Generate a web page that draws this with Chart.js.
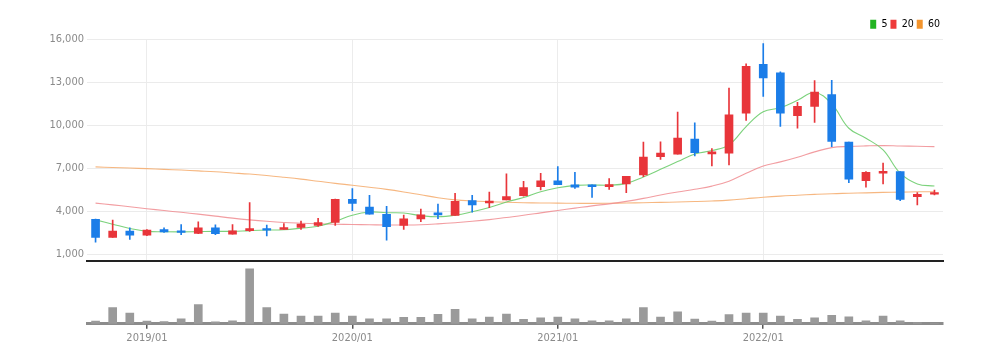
<!DOCTYPE html>
<html>
<head>
<meta charset="utf-8">
<script src="https://cdn.jsdelivr.net/npm/chart.js@4.4.1/dist/chart.umd.min.js"></script>
<style>
  html, body { margin: 0; padding: 0; background: #fff; }
  #wrap { position: relative; width: 1004px; height: 363px; }
  #priceBox { position: absolute; left: 0; top: 0; width: 1004px; height: 271px; }
  #volBox { position: absolute; left: 0; top: 262px; width: 1004px; height: 101px; }
</style>
</head>
<body>
<div id="wrap">
  <div id="priceBox"><canvas id="priceChart"></canvas></div>
  <div id="volBox"><canvas id="volChart"></canvas></div>
</div>
<script>
// monthly candles, 2018/10 .. 2022/11
const months = [
  "2018/10", "2018/11", "2018/12",
  "2019/01", "2019/02", "2019/03", "2019/04", "2019/05", "2019/06", "2019/07", "2019/08", "2019/09", "2019/10", "2019/11", "2019/12",
  "2020/01", "2020/02", "2020/03", "2020/04", "2020/05", "2020/06", "2020/07", "2020/08", "2020/09", "2020/10", "2020/11", "2020/12",
  "2021/01", "2021/02", "2021/03", "2021/04", "2021/05", "2021/06", "2021/07", "2021/08", "2021/09", "2021/10", "2021/11", "2021/12",
  "2022/01", "2022/02", "2022/03", "2022/04", "2022/05", "2022/06", "2022/07", "2022/08", "2022/09", "2022/10", "2022/11"
];

const opens = [
  3430, 2170, 2610,
  2330, 2730, 2640, 2450, 2850, 2400, 2640, 2800, 2730, 2870, 3010, 3220,
  4830, 4300, 3780, 3010, 3460, 3900, 3710, 4740, 4580, 4790, 5090, 5720,
  6120, 5840, 5840, 5720, 5910, 6540, 7820, 7990, 9040, 8010, 8060, 10860,
  14270, 13670, 10680, 11330, 12150, 8830, 6140, 6660, 6770, 5020, 5190
];
const highs = [
  3450, 3380, 2850,
  2720, 2850, 3080, 3270, 3060, 3080, 4600, 3030, 3150, 3310, 3500, 4850,
  5580, 5120, 4340, 3730, 4150, 4500, 5260, 5120, 5350, 6610, 6100, 6660,
  7120, 6730, 5840, 6280, 6450, 8830, 8850, 10930, 10180, 8380, 12610, 14300,
  15720, 13740, 11610, 13130, 13150, 8830, 6770, 7360, 6770, 5300, 5490
];
const lows = [
  1840, 2170, 2030,
  2300, 2520, 2360, 2430, 2360, 2400, 2600, 2280, 2730, 2730, 2950, 3010,
  4040, 3800, 1980, 2730, 3270, 3480, 3710, 3940, 4250, 4790, 5050, 5490,
  5860, 5600, 4970, 5530, 5300, 6420, 7630, 7990, 7870, 7170, 7240, 10340,
  12030, 9920, 9810, 10200, 8520, 6000, 5680, 5910, 4740, 4440, 5150
];
const closes = [
  2170, 2610, 2330,
  2690, 2560, 2530, 2850, 2430, 2640, 2800, 2690, 2870, 3100, 3220, 4830,
  4550, 3800, 2920, 3480, 3750, 3740, 4690, 4440, 4720, 5020, 5650, 6120,
  5860, 5680, 5720, 5860, 6450, 7780, 8060, 9110, 8100, 8150, 10740, 14130,
  13320, 10860, 11330, 12330, 8880, 6240, 6730, 6800, 4830, 5180, 5300
];

// moving averages as drawn (5 / 20 / 60)
const ma5 = [
  3400, 3100, 2800,
  2600, 2570, 2560, 2580, 2600, 2600, 2650, 2690, 2710, 2820, 2960, 3300,
  3730, 3950, 3900, 3880, 3700, 3620, 3730, 3970, 4270, 4650, 4960, 5370,
  5640, 5810, 5840, 5820, 5950, 6400, 6930, 7470, 8000, 8240, 8640, 9920,
  10950, 11230, 11750, 12300, 11500, 9800, 9100, 8290, 6660, 5910, 5770
];
const ma20 = [
  4570, 4450, 4320,
  4180, 4050, 3930, 3800, 3660, 3520, 3400, 3300, 3220, 3170, 3130, 3100,
  3080, 3060, 3040, 3040, 3060, 3120, 3200, 3300, 3420, 3570, 3720, 3890,
  4060, 4220, 4380, 4520, 4690, 4900, 5140, 5350, 5540, 5760, 6100, 6650,
  7170, 7450, 7780, 8150, 8450, 8530, 8570, 8590, 8560, 8540, 8520
];
const ma60 = [
  7100, 7060, 7020,
  6980, 6930, 6880, 6820, 6760, 6680, 6600, 6500, 6380, 6250, 6100, 5950,
  5820, 5680, 5530, 5350, 5150, 4950, 4800, 4720, 4670, 4630, 4600, 4580,
  4570, 4560, 4550, 4560, 4580, 4600, 4620, 4650, 4680, 4720, 4780, 4880,
  4980, 5060, 5120, 5180, 5230, 5260, 5290, 5320, 5340, 5360, 5370
];

// volume (relative units, no axis shown)
const volumes = [
  270, 1600, 1070,
  270, 230, 500, 1900, 200, 300, 5430, 1600, 970, 770, 770, 1070,
  770, 500, 500, 630, 630, 930, 1430, 500, 670, 970, 430, 600,
  670, 500, 300, 300, 500, 1600, 670, 1170, 470, 270, 900, 1070,
  1070, 770, 430, 600, 830, 700, 300, 770, 300, 130, 30
];

const priceTicks = [1000, 4000, 7000, 10000, 13000, 16000];
const maLabels = ["5", "20", "60"];

const upColor = "#e8353a";
const downColor = "#1b7de8";
const maLineColors = ["rgba(110,205,110,0.9)", "rgba(240,140,145,0.85)", "rgba(245,175,115,0.9)"];
const maKeyColors = ["#22b422", "#ee3a3a", "#f3942c"];
const gray = "#8a8a8a";

Chart.defaults.font.family = "'Liberation Sans Narrow', 'DejaVu Sans Condensed', 'Liberation Sans', sans-serif";
Chart.defaults.font.size = 11;
Chart.defaults.color = gray;

const candleColors = closes.map((c, i) => (c >= opens[i] ? upColor : downColor));
const isJan = i => months[i] && months[i].endsWith("/01");

new Chart(document.getElementById("priceChart"), {
  type: "bar",
  data: {
    labels: months,
    datasets: [
      {
        label: "body",
        data: opens.map((o, i) => [o, closes[i]]),
        backgroundColor: candleColors,
        barThickness: 8,
        minBarLength: 1.5,
        order: 0,
      },
      {
        label: "wick",
        data: lows.map((l, i) => [l, highs[i]]),
        backgroundColor: candleColors,
        barThickness: 1,
        order: 1,
      },
      { type: "line", label: maLabels[0], data: ma5, borderColor: maLineColors[0], borderWidth: 1.1, pointRadius: 0, tension: 0.4, order: 2 },
      { type: "line", label: maLabels[1], data: ma20, borderColor: maLineColors[1], borderWidth: 1.1, pointRadius: 0, tension: 0.4, order: 3 },
      { type: "line", label: maLabels[2], data: ma60, borderColor: maLineColors[2], borderWidth: 1.1, pointRadius: 0, tension: 0.4, order: 4 },
    ],
  },
  options: {
    responsive: true,
    maintainAspectRatio: false,
    animation: false,
    layout: { padding: { left: 0, right: 61, top: 16, bottom: 0 } },
    datasets: { bar: { grouped: false } },
    plugins: {
      tooltip: { enabled: false },
      legend: {
        position: "top",
        align: "end",
        labels: {
          boxWidth: 6,
          boxHeight: 9,
          padding: 3,
          color: gray,
          font: { size: 10.5 },
          generateLabels: () =>
            maLabels.map((t, i) => ({
              text: t,
              fillStyle: maKeyColors[i],
              strokeStyle: maKeyColors[i],
              lineWidth: 0,
              datasetIndex: i + 2,
            })),
        },
      },
    },
    scales: {
      x: {
        offset: true,
        ticks: { display: false },
        grid: {
          offset: false,
          drawTicks: false,
          color: ctx => (isJan(ctx.index) ? "#ececec" : "rgba(0,0,0,0)"),
        },
        border: { color: "#222", width: 2 },
      },
      y: {
        min: 500,
        max: 16000,
        afterBuildTicks: s => { s.ticks = priceTicks.map(v => ({ value: v })); },
        afterFit: s => { s.width = 87; },
        ticks: { padding: 3, color: gray, callback: v => v.toLocaleString("en-US") },
        grid: { color: "#ebebeb", drawTicks: false },
        border: { display: false },
      },
    },
  },
});

new Chart(document.getElementById("volChart"), {
  type: "bar",
  data: {
    labels: months,
    datasets: [{ label: "volume", data: volumes, backgroundColor: "#9a9a9a", barThickness: 8 }],
  },
  options: {
    responsive: true,
    maintainAspectRatio: false,
    animation: false,
    layout: { padding: { left: 87, right: 61, top: 1, bottom: 15 } },
    plugins: { legend: { display: false }, tooltip: { enabled: false } },
    scales: {
      x: {
        offset: true,
        z: 1,
        grid: {
          offset: false,
          drawOnChartArea: false,
          tickLength: 5,
          lineWidth: 1.5,
          color: ctx => (isJan(ctx.index) ? "#555" : "rgba(0,0,0,0)"),
        },
        border: { color: "#8c8c8c", width: 3 },
        ticks: {
          autoSkip: false,
          maxRotation: 0,
          padding: 3,
          color: gray,
          callback: (v, i) => (isJan(i) ? months[i] : ""),
        },
      },
      y: { display: false, min: 0, max: 6000 },
    },
  },
});
</script>
</body>
</html>
